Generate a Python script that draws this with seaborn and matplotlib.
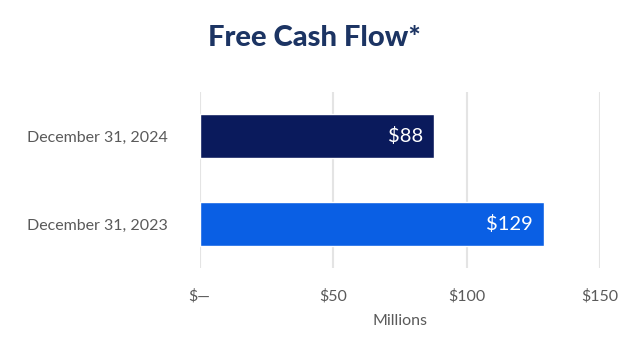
import matplotlib
matplotlib.use("Agg")
import matplotlib.pyplot as plt
import seaborn as sns
import pandas as pd

categories = ["December 31, 2024", "December 31, 2023"]
values = [88, 129]
bar_colors = ["#0a1a5c", "#0a5fe4"]
tick_values = [0, 50, 100, 150]
tick_labels = ["$—", "$50", "$100", "$150"]
title = "Free Cash Flow*"
xlabel = "Millions"

sns.set_theme(style="white")
plt.rcParams["font.family"] = ["Lato", "DejaVu Sans"]

df = pd.DataFrame({"period": categories, "value": values})

fig = plt.figure(figsize=(6.3, 3.6), dpi=100)
ax = fig.add_axes([199.5 / 630, 1 - 268 / 360, (600 - 199.5) / 630, 176 / 360])

sns.barplot(data=df, y="period", x="value", hue="period", palette=bar_colors,
            order=categories, hue_order=categories, orient="h", width=0.5,
            legend=False, ax=ax, saturation=1)

ax.set_xlim(0, 150)
ax.set_ylim(1.5, -0.5)
ax.set_xticks(tick_values)
ax.set_xticklabels(tick_labels)
ax.grid(axis="x", color="#e4e4e4", linewidth=1.5)
ax.set_axisbelow(True)
for s in ax.spines.values():
    s.set_visible(False)
ax.tick_params(axis="both", length=0, labelsize=11.5, labelcolor="#5a5a5a")
ax.tick_params(axis="x", pad=15)
ax.tick_params(axis="y", pad=23)
ax.set_ylabel("")
ax.set_xlabel(xlabel, fontsize=11.5, color="#5a5a5a", labelpad=8)

for i, v in enumerate(values):
    ax.annotate(f"${v}", xy=(v, i), xytext=(-8, 0), textcoords="offset points",
                ha="right", va="center", color="white", fontsize=14.5)

fig.text(314 / 630, 1 - 38 / 360, title, ha="center", va="center",
         fontsize=21, fontweight="black", color="#1c3463")

fig.savefig("out.png", dpi=100)
